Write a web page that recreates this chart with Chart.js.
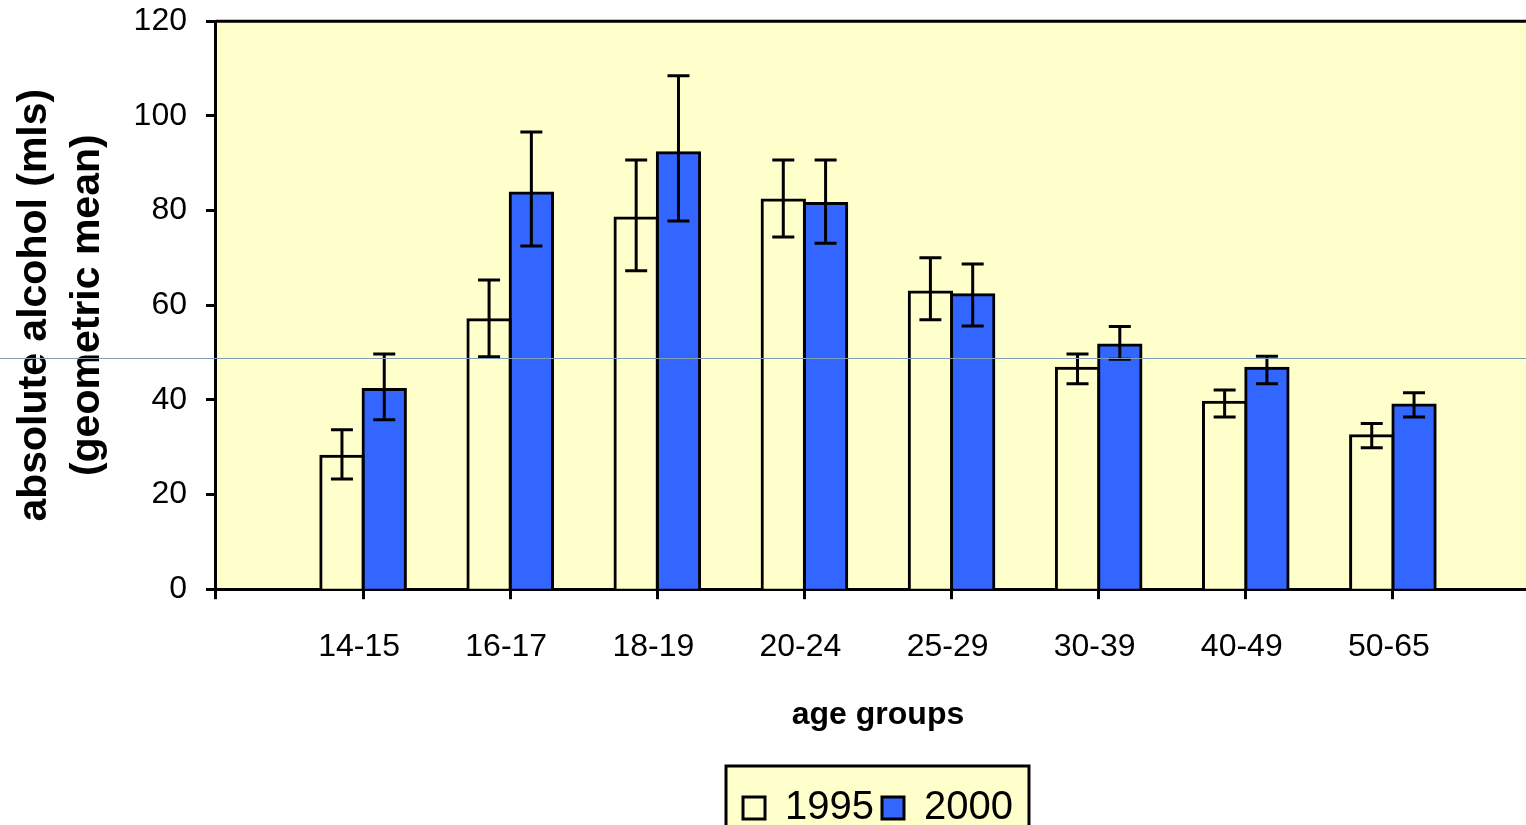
<!DOCTYPE html>
<html>
<head>
<meta charset="utf-8">
<script src="https://cdn.jsdelivr.net/npm/chart.js@4.4.1/dist/chart.umd.min.js"></script>
<style>
  html, body { margin: 0; padding: 0; background: #fff; overflow: hidden; }
  #wrap { position: relative; width: 1526px; height: 825px; overflow: hidden; }
  #myCanvas { position: absolute; left: 0; top: -17px; }
  #scanline { position: absolute; left: 0; top: 358px; width: 1526px; height: 1px; background: #7f9db3; }
</style>
</head>
<body>
<div id="wrap">
  <canvas id="myCanvas" width="1569" height="865"></canvas>
  <div id="scanline"></div>
</div>
<script>
// empty slots at both ends keep the groups on the ticks, like the Excel original
const ageGroups = ['', '14-15', '16-17', '18-19', '20-24', '25-29', '30-39', '40-49', '50-65', ''];

const mean1995 = [null, 28.1, 56.9, 78.4, 82.2, 62.8, 46.7, 39.5, 32.4, null];
const high1995 = [null, 33.7, 65.3, 90.7, 90.7, 70.0, 49.7, 42.1, 35.0, null];
const low1995  = [null, 23.3, 49.1, 67.3, 74.4, 56.9, 43.4, 36.4, 29.9, null];

const mean2000 = [null, 42.2, 83.7, 92.2, 81.5, 62.2, 51.6, 46.7, 38.9, null];
const high2000 = [null, 49.7, 96.6, 108.5, 90.7, 68.7, 55.5, 49.2, 41.5, null];
const low2000  = [null, 35.8, 72.5, 77.8, 73.1, 55.6, 48.6, 43.4, 36.4, null];

const errorRanges = [[low1995, high1995], [low2000, high2000]];

const plotBox = {
  id: 'plotBox',
  beforeDraw(chart) {
    const { ctx, chartArea: a } = chart;
    ctx.save();
    ctx.fillStyle = '#ffffcc';
    ctx.fillRect(a.left, a.top, a.right - a.left, a.bottom - a.top);

    // frame around the legend items
    const boxes = chart.legend.legendHitBoxes;
    if (boxes && boxes.length) {
      const l = Math.min(...boxes.map((b) => b.left)) - 17;
      const r = Math.max(...boxes.map((b) => b.left + b.width)) + 16;
      const t = Math.min(...boxes.map((b) => b.top)) - 22;
      const btm = Math.max(...boxes.map((b) => b.top + b.height)) + 18;
      ctx.fillStyle = '#ffffcc';
      ctx.fillRect(l, t, r - l, btm - t);
      ctx.strokeStyle = '#000';
      ctx.lineWidth = 3;
      ctx.strokeRect(l, t, r - l, btm - t);
    }
    ctx.restore();
  },
  afterDatasetsDraw(chart) {
    const { ctx, chartArea: a } = chart;
    ctx.save();
    ctx.strokeStyle = '#000';
    ctx.lineWidth = 3;
    ctx.beginPath();
    ctx.moveTo(a.left, a.top);
    ctx.lineTo(a.right, a.top);
    ctx.lineTo(a.right, a.bottom);
    ctx.stroke();
    ctx.restore();
  },
};

const errorBars = {
  id: 'errorBars',
  afterDatasetsDraw(chart) {
    const ctx = chart.ctx;
    const y = chart.scales.y;
    ctx.save();
    ctx.strokeStyle = '#000';
    ctx.lineWidth = 3;
    errorRanges.forEach(([lo, hi], i) => {
      chart.getDatasetMeta(i).data.forEach((bar, j) => {
        if (hi[j] == null) return;
        const top = y.getPixelForValue(hi[j]);
        const bottom = y.getPixelForValue(lo[j]);
        ctx.beginPath();
        ctx.moveTo(bar.x, top);
        ctx.lineTo(bar.x, bottom);
        ctx.moveTo(bar.x - 11, top);
        ctx.lineTo(bar.x + 11, top);
        ctx.moveTo(bar.x - 11, bottom);
        ctx.lineTo(bar.x + 11, bottom);
        ctx.stroke();
      });
    });
    ctx.restore();
  },
};

Chart.defaults.font.family = '"Liberation Sans", Arial, sans-serif';
Chart.defaults.color = '#000';

const barStyle = {
  borderColor: '#000',
  borderWidth: 3,
  inflateAmount: 1.5,
  categoryPercentage: 0.575,
  barPercentage: 1.0,
};

new Chart(document.getElementById('myCanvas'), {
  type: 'bar',
  data: {
    labels: ageGroups,
    datasets: [
      { label: '1995', data: mean1995, backgroundColor: '#ffffcc', ...barStyle },
      { label: '2000', data: mean2000, backgroundColor: '#3366ff', ...barStyle },
    ],
  },
  options: {
    responsive: false,
    animation: false,
    events: [],
    layout: { padding: { top: 2, left: 0, right: 0, bottom: 10 } },
    scales: {
      x: {
        offset: false,
        grid: {
          offset: false,
          drawOnChartArea: false,
          tickLength: 10,
          tickWidth: 3,
          tickColor: '#000',
        },
        border: { color: '#000', width: 3 },
        ticks: { font: { size: 32 }, padding: 29, labelOffset: -4, maxRotation: 0, autoSkip: false },
        title: {
          display: true,
          text: 'age groups',
          font: { size: 32, weight: 'bold' },
          padding: { top: 0, bottom: 46 },
        },
      },
      y: {
        min: 0,
        max: 120,
        ticks: { stepSize: 20, font: { size: 32 }, padding: 19 },
        grid: {
          drawOnChartArea: false,
          tickLength: 10,
          tickWidth: 3,
          tickColor: '#000',
        },
        border: { color: '#000', width: 3 },
        title: {
          display: true,
          text: ['absolute alcohol (mls)', '(geometric mean)'],
          font: { size: 41, weight: 'bold', lineHeight: 1.3 },
          padding: { top: 8, bottom: 0 },
        },
      },
    },
    plugins: {
      legend: {
        position: 'bottom',
        fullSize: false,
        labels: { font: { size: 40 }, boxWidth: 22, boxHeight: 22, padding: 8, color: '#000' },
      },
      tooltip: { enabled: false },
    },
  },
  plugins: [plotBox, errorBars],
});
</script>
</body>
</html>
